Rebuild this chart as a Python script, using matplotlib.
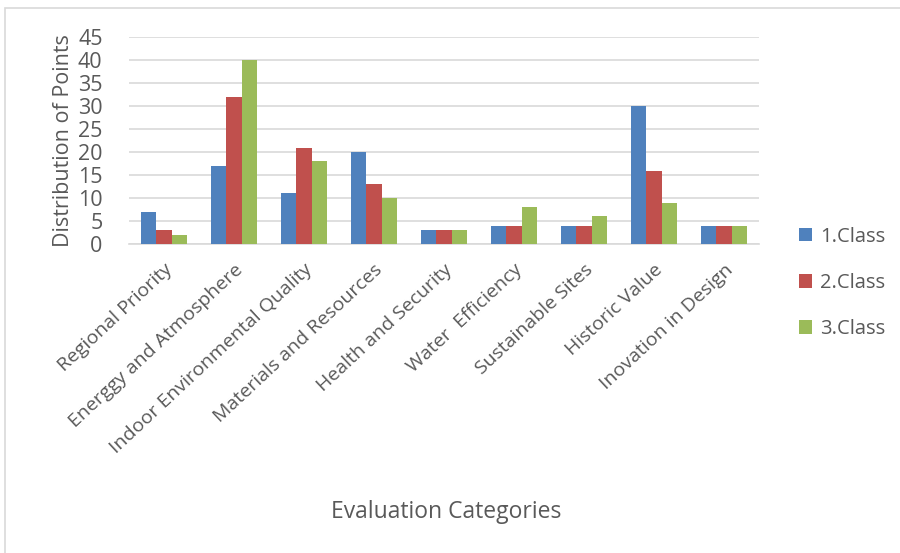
import matplotlib.pyplot as plt
import matplotlib.patches as mpatches
import numpy as np

# Data
categories = ["Regional Priority", "Energgy and Atmosphere", "Indoor Environmental Quality",
              "Materials and Resources", "Health and Security", "Water  Efficiency",
              "Sustainable Sites", "Historic Value", "Inovation in Design"]
class1 = [7, 17, 11, 20, 3, 4, 4, 30, 4]
class2 = [3, 32, 21, 13, 3, 4, 4, 16, 4]
class3 = [2, 40, 18, 10, 3, 8, 6, 9, 4]
series_names = ["1.Class", "2.Class", "3.Class"]
colors = ["#4F81BD", "#C0504D", "#9BBB59"]

plt.rcParams['font.family'] = ['Open Sans', 'DejaVu Sans']
txt = "#595959"

fig = plt.figure(figsize=(9, 5.53), dpi=100)
W, H = 900, 553
ax = fig.add_axes([129 / W, 1 - 244 / H, (759 - 129) / W, (244 - 37.3) / H])

# outer chart border
fig.patches.append(mpatches.Rectangle((5 / W, -0.1), 1.2, 1 - 8 / H + 0.1,
                                      transform=fig.transFigure, fill=False,
                                      edgecolor="#D9D9D9", linewidth=1.2))

x = np.arange(len(categories))
bw = 1 / 4.5
for i, (vals, name) in enumerate(zip([class1, class2, class3], series_names)):
    ax.bar(x + (i - 1) * bw, vals, width=bw, color=colors[i], label=name, zorder=3)

ax.set_xlim(-0.5, len(categories) - 0.5)
ax.set_ylim(0, 45)
ax.set_yticks(range(0, 46, 5))
ax.yaxis.grid(True, color="#D9D9D9", linewidth=1.2, zorder=0)
for s in ["top", "right", "left"]:
    ax.spines[s].set_visible(False)
ax.spines["bottom"].set_color("#D9D9D9")
ax.spines["bottom"].set_linewidth(1.2)
ax.tick_params(axis="both", length=0, colors=txt)
ax.tick_params(axis="y", labelsize=15.5, pad=19)
ax.set_xticks(x)
ax.set_xticklabels(categories, rotation=43, ha="right", rotation_mode="anchor",
                   fontsize=14, color=txt)
ax.tick_params(axis="x", pad=12)

ax.set_ylabel("Distribution of Points", fontsize=15.5, color=txt, labelpad=3)
fig.text(446 / W, 1 - 512 / H, "Evaluation Categories", ha="center", va="center",
         fontsize=16.5, color=txt)

ax.legend(loc="center left", bbox_to_anchor=(781 / W, 1 - 283 / H),
          bbox_transform=fig.transFigure, frameon=False, fontsize=14.5,
          labelcolor=txt, handlelength=0.65, handleheight=0.65, labelspacing=1.3,
          handletextpad=0.4)

fig.savefig("out.png", dpi=100)
